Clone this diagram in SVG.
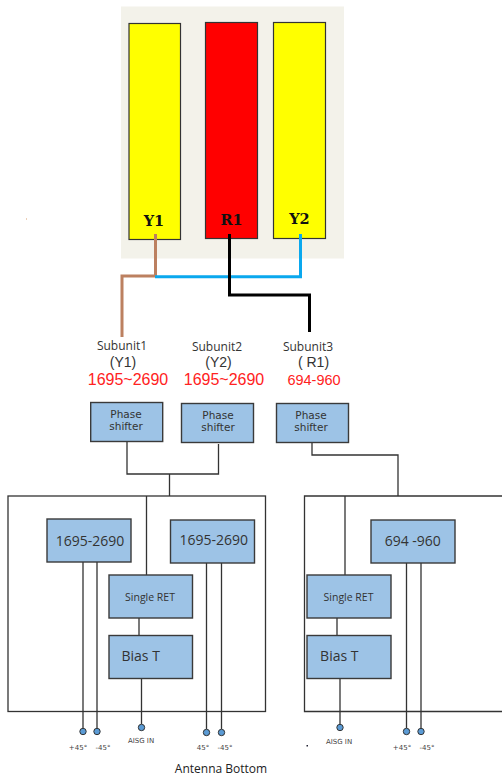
<svg xmlns="http://www.w3.org/2000/svg" width="502" height="776" viewBox="0 0 502 776">
<style>
text{font-family:"DejaVu Sans","Liberation Sans",sans-serif;text-anchor:middle}
.el{stroke:#333;stroke-width:1.2}
.blue{fill:#9dc3e6;stroke:#3a3a3a;stroke-width:1.4}
.ln{fill:none;stroke:#333;stroke-width:1.3}
.fr{fill:none;stroke:#333;stroke-width:1.3}
.pin{fill:#5b9bd5;stroke:#333;stroke-width:1}
.ant{font-family:"DejaVu Serif",serif;font-weight:bold;font-size:14.500px;fill:#111}
.sub{font-family:"Open Sans",sans-serif;font-size:12px;fill:#333}
.par{font-family:"Liberation Sans",sans-serif;font-size:14px;fill:#333}
.band{font-family:"Liberation Sans",sans-serif;font-size:16px;fill:#f22}
.ps{font-size:10.500px;fill:#333}
.ret{font-family:"Open Sans",sans-serif;font-size:10.500px;fill:#333}
.tick{font-size:7px;fill:#444}
.b{font-family:"Open Sans",sans-serif;font-size:14px;fill:#333}
</style>
<rect width="502" height="776" fill="#fff"/>
<g id="radome"><rect x="121" y="6.500" width="223" height="252" fill="#f3f2ea"/></g>
<g id="Y1"><rect class="el" x="129" y="23.500" width="51.500" height="216" fill="#ff0"/><text class="ant" x="154" y="226">Y1</text></g>
<g id="R1"><rect class="el" x="205.500" y="22.500" width="52" height="216" fill="#f00"/><text class="ant" x="231.500" y="225">R1</text></g>
<g id="Y2"><rect class="el" x="273.500" y="22.500" width="52" height="216" fill="#ff0"/><text class="ant" x="299.500" y="224">Y2</text></g>
<g id="connectors">
<path d="M155.500 234V276H122V337" fill="none" stroke="#bc8060" stroke-width="3"/>
<path d="M155 276.700H300.500V234" fill="none" stroke="#0aa8ee" stroke-width="3"/>
<path d="M229.500 234V295H309.500V332" fill="none" stroke="#000" stroke-width="3"/>
<path class="ln" d="M127 442V474H218.500V444M169.500 474V496"/>
<path class="ln" d="M312 442V455H398V496"/>
<path class="ln" d="M146.500 496V575M139 618V635.500M141.500 678.500V724"/>
<path class="ln" d="M83 562V728M97 562V728M206.500 563V729M221.500 563V729"/>
<path class="ln" d="M345 496V575M337 618V635.500M340 678.500V724"/>
<path class="ln" d="M406.500 563V728M421 563V728"/>
</g>
<g id="subunit1"><text class="sub" x="122" y="350">Subunit1</text><text class="par" x="123" y="367">(Y1)</text><text class="band" x="128" y="385">1695~2690</text></g>
<g id="subunit2"><text class="sub" x="217" y="351">Subunit2</text><text class="par" x="218.500" y="367">(Y2)</text><text class="band" x="224" y="385">1695~2690</text></g>
<g id="subunit3"><text class="sub" x="308" y="351">Subunit3</text><text class="par" x="313.500" y="367">( R1)</text><text class="band" x="314" y="385" style="font-size:14.500px">694-960</text></g>
<g id="ps1"><rect class="blue" x="90.700" y="402.500" width="72" height="39"/><text class="ps" x="126" y="418">Phase</text><text class="ps" x="126" y="430">shifter</text></g>
<g id="ps2"><rect class="blue" x="181.500" y="403.500" width="72" height="39"/><text class="ps" x="218" y="419">Phase</text><text class="ps" x="218" y="431">shifter</text></g>
<g id="ps3"><rect class="blue" x="276.500" y="403.500" width="72" height="39"/><text class="ps" x="311" y="419">Phase</text><text class="ps" x="311" y="431">shifter</text></g>
<g id="frame-left"><rect class="fr" x="8" y="496" width="257.500" height="215.500"/></g>
<g id="frame-right"><path class="fr" d="M504 496H304.500V711.500H504"/></g>
<g id="band-left"><rect class="blue" x="47" y="519" width="84" height="43"/><text class="b" x="90" y="546">1695-2690</text></g>
<g id="band-right"><rect class="blue" x="170.500" y="520" width="84" height="43"/><text class="b" x="213.700" y="545">1695-2690</text></g>
<g id="ret-left"><rect class="blue" x="109" y="575" width="83.500" height="43"/><text class="ret" x="150" y="601">Single RET</text></g>
<g id="bias-left"><rect class="blue" x="109" y="635.500" width="83.500" height="43"/><text class="b" x="140.700" y="661">Bias T</text></g>
<g id="band-r1"><rect class="blue" x="371" y="520" width="84" height="43"/><text class="b" x="412.800" y="546">694 -960</text></g>
<g id="ret-right"><rect class="blue" x="307" y="575" width="84" height="43"/><text class="ret" x="348.500" y="601">Single RET</text></g>
<g id="bias-right"><rect class="blue" x="307" y="635.500" width="84" height="43"/><text class="b" x="339.300" y="661">Bias T</text></g>
<g id="pins">
<circle class="pin" cx="83" cy="731.500" r="3.200"/><circle class="pin" cx="97" cy="731.500" r="3.200"/><circle class="pin" cx="141.500" cy="727.500" r="3.200"/><circle class="pin" cx="206.500" cy="732.500" r="3.200"/><circle class="pin" cx="221.500" cy="732.500" r="3.200"/>
<circle class="pin" cx="340" cy="727.500" r="3.200"/><circle class="pin" cx="406.500" cy="731.500" r="3.200"/><circle class="pin" cx="421" cy="731.500" r="3.200"/>
<text class="tick" x="78" y="750">+45°</text><text class="tick" x="103" y="750">-45°</text><text class="tick" x="141" y="743">AISG IN</text><text class="tick" x="203" y="750">45°</text><text class="tick" x="225" y="750">-45°</text>
<text class="tick" x="339" y="744">AISG IN</text><text class="tick" x="402" y="750">+45°</text><text class="tick" x="427" y="750">-45°</text>
</g>
<text x="221" y="773" style="font-family:'Open Sans',sans-serif;font-size:12px;fill:#222">Antenna Bottom</text>
<rect x="26" y="218.500" width="1" height="1" fill="#d9a070"/><rect x="306.500" y="745" width="1.500" height="1.500" fill="#223"/>
</svg>
